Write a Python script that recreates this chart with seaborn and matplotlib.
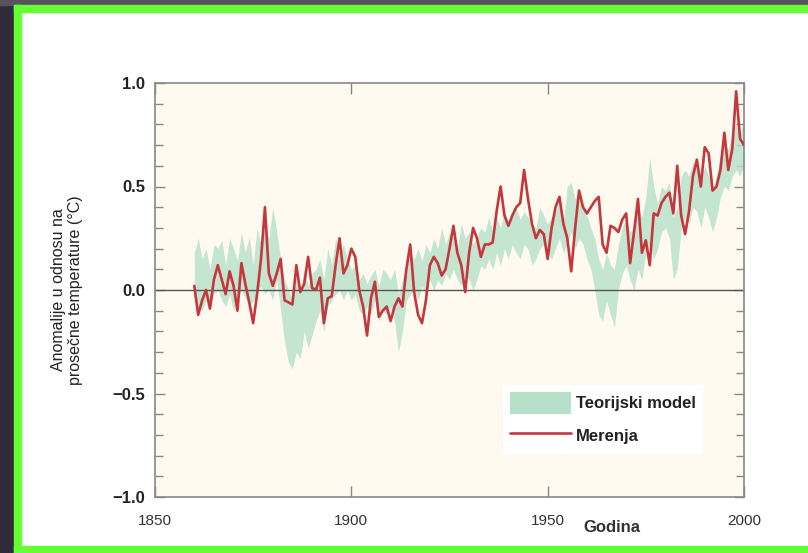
import numpy as np
import pandas as pd
import matplotlib
matplotlib.use("Agg")
import matplotlib.pyplot as plt
import seaborn as sns
from matplotlib.patches import Rectangle, Patch
from matplotlib.lines import Line2D
from matplotlib.ticker import MultipleLocator

# --- podaci (procenjeno sa slike) ---
years = np.arange(1860, 2001)

merenja = [
    0.02, -0.12, -0.05, 0.00, -0.09, 0.05, 0.12, 0.05, -0.02, 0.09,
    0.02, -0.10, 0.13, 0.03, -0.06, -0.16, -0.02, 0.15, 0.40, 0.08,
    0.02, 0.08, 0.15, -0.05, -0.06, -0.07, 0.12, -0.01, 0.03, 0.16,
    0.01, 0.00, 0.06, -0.16, -0.04, -0.03, 0.12, 0.25, 0.08, 0.12,
    0.20, 0.16, 0.00, -0.08, -0.22, -0.04, 0.04, -0.13, -0.10, -0.08,
    -0.15, -0.08, -0.04, -0.08, 0.10, 0.22, -0.01, -0.12, -0.16, -0.05,
    0.12, 0.16, 0.13, 0.07, 0.10, 0.20, 0.31, 0.18, 0.12, -0.01,
    0.18, 0.30, 0.25, 0.16, 0.22, 0.22, 0.23, 0.38, 0.50, 0.36,
    0.31, 0.36, 0.40, 0.42, 0.58, 0.44, 0.32, 0.25, 0.29, 0.27,
    0.15, 0.30, 0.40, 0.45, 0.32, 0.25, 0.09, 0.30, 0.48, 0.40,
    0.37, 0.40, 0.43, 0.45, 0.22, 0.18, 0.31, 0.30, 0.28, 0.34,
    0.37, 0.13, 0.28, 0.44, 0.18, 0.24, 0.12, 0.37, 0.36, 0.42,
    0.45, 0.47, 0.37, 0.60, 0.36, 0.27, 0.38, 0.55, 0.63, 0.50,
    0.69, 0.66, 0.48, 0.50, 0.58, 0.76, 0.58, 0.68, 0.96, 0.73,
    0.70,
]

model_lo = [
    -0.05, -0.08, -0.10, -0.05, -0.08, -0.02, 0.00, -0.05, -0.08, -0.02,
    -0.10, -0.05, 0.00, -0.04, -0.08, -0.05, -0.02, 0.02, -0.02, 0.00,
    -0.05, 0.05, -0.10, -0.25, -0.35, -0.38, -0.30, -0.33, -0.20, -0.28,
    -0.22, -0.15, -0.10, -0.20, -0.08, -0.05, -0.02, 0.00, -0.05, 0.00,
    -0.05, -0.02, -0.10, -0.12, -0.08, -0.12, -0.05, -0.15, -0.10, -0.12,
    -0.08, -0.15, -0.30, -0.20, -0.05, -0.02, 0.00, -0.05, 0.02, -0.03,
    0.05, 0.00, 0.05, 0.02, 0.08, 0.05, 0.10, 0.05, 0.02, 0.08,
    0.05, 0.00, 0.05, 0.12, 0.10, 0.15, 0.10, 0.18, 0.12, 0.20,
    0.15, 0.22, 0.18, 0.15, 0.22, 0.20, 0.12, 0.15, 0.20, 0.22,
    0.18, 0.15, 0.20, 0.25, 0.18, 0.22, 0.28, 0.20, 0.25, 0.22,
    0.15, 0.10, 0.00, -0.12, -0.15, -0.05, -0.12, -0.18, 0.00, 0.08,
    0.12, 0.05, 0.00, 0.10, 0.05, 0.18, 0.22, 0.15, 0.20, 0.28,
    0.30, 0.25, 0.05, 0.10, 0.30, 0.35, 0.32, 0.40, 0.38, 0.30,
    0.40, 0.35, 0.28, 0.35, 0.45, 0.50, 0.48, 0.55, 0.58, 0.55,
    0.60,
]

model_hi = [
    0.18, 0.25, 0.15, 0.20, 0.10, 0.22, 0.20, 0.24, 0.12, 0.25,
    0.20, 0.14, 0.28, 0.18, 0.26, 0.12, 0.30, 0.22, 0.32, 0.25,
    0.40, 0.28, 0.15, 0.05, 0.00, -0.05, 0.05, 0.00, 0.10, 0.02,
    0.08, 0.10, 0.15, 0.05, 0.20, 0.12, 0.25, 0.18, 0.22, 0.15,
    0.10, 0.12, 0.05, 0.08, 0.03, 0.07, 0.10, 0.02, 0.10, 0.08,
    0.05, 0.10, -0.02, 0.05, 0.12, 0.18, 0.15, 0.20, 0.14, 0.22,
    0.18, 0.25, 0.20, 0.30, 0.22, 0.28, 0.24, 0.20, 0.32, 0.25,
    0.28, 0.22, 0.26, 0.30, 0.28, 0.35, 0.28, 0.35, 0.30, 0.38,
    0.32, 0.36, 0.40, 0.34, 0.38, 0.35, 0.32, 0.30, 0.40, 0.36,
    0.32, 0.35, 0.38, 0.42, 0.34, 0.50, 0.52, 0.44, 0.48, 0.40,
    0.36, 0.30, 0.25, 0.15, 0.10, 0.18, 0.12, 0.10, 0.22, 0.30,
    0.35, 0.28, 0.30, 0.40, 0.35, 0.45, 0.64, 0.50, 0.42, 0.50,
    0.48, 0.52, 0.35, 0.40, 0.55, 0.58, 0.55, 0.62, 0.58, 0.52,
    0.60, 0.55, 0.48, 0.55, 0.66, 0.70, 0.68, 0.75, 0.80, 0.75,
    0.82,
]

df = pd.DataFrame({"Godina": years, "Merenja": merenja,
                   "lo": model_lo, "hi": model_hi})

sns.set_theme(style="white")
plt.rcParams["font.family"] = ["Liberation Sans", "DejaVu Sans"]

fig = plt.figure(figsize=(8.08, 5.53), dpi=100)
fig.patch.set_facecolor("white")

# okvir slike (tamna pozadina + zeleni rub)
W, H = 808, 553
def px_rect(x0, y0, x1, y1, color):
    fig.patches.append(Rectangle((x0 / W, 1 - y1 / H), (x1 - x0) / W, (y1 - y0) / H,
                                 transform=fig.transFigure, color=color, zorder=0))
px_rect(0, 0, 14, H, "#2f2b3b")
px_rect(0, 0, W, 5, "#55535e")
px_rect(14, 5, W, 12, "#66ff33")
px_rect(14, 5, 21, H, "#66ff33")
px_rect(14, 546, W, H, "#66ff33")

ax = fig.add_axes([155 / W, 1 - 497 / H, (744 - 155) / W, (497 - 83) / H])
ax.set_facecolor("#fefaef")

band_color = "#b6e0c9"
ax.fill_between(df["Godina"], df["lo"], df["hi"], color=band_color,
                linewidth=0, alpha=0.8, zorder=1)
ax.axhline(0, color="#555555", lw=1.0, zorder=2)
sns.lineplot(data=df, x="Godina", y="Merenja", ax=ax, color="#c4383d",
             lw=1.9, zorder=3)

ax.set_xlim(1850, 2000)
ax.set_ylim(-1.0, 1.0)
ax.set_xticks([1850, 1900, 1950, 2000])
ax.set_yticks([-1.0, -0.5, 0.0, 0.5, 1.0])
ax.yaxis.set_minor_locator(MultipleLocator(0.1))
ax.tick_params(axis="x", which="major", direction="in", length=8, width=1,
               color="#888888", top=True, bottom=True, pad=12, labelsize=11)
ax.tick_params(axis="y", which="major", direction="in", length=7, width=1,
               color="#888888", left=True, right=True, labelsize=12, pad=7)
ax.tick_params(axis="y", which="minor", direction="in", length=6, width=1,
               color="#888888", left=True, right=True)
ax.set_yticklabels(["\u22121.0", "\u22120.5", "0.0", "0.5", "1.0"],
                   fontweight="bold", color="#222222")
ax.set_xticklabels(["1850", "1900", "1950", "2000"], color="#333333")
for s in ax.spines.values():
    s.set_color("#888888")
    s.set_linewidth(1.2)

ax.set_xlabel("")
ax.set_ylabel("Anomalije u odnosu na\nprosečne temperature (°C)",
              fontsize=11.5, color="#222222", labelpad=21)
fig.text(612 / W, 1 - 527 / H, "Godina", ha="center", va="center",
         fontsize=12, fontweight="bold", color="#333333")

handles = [Patch(facecolor=band_color, edgecolor="none"),
           Line2D([0], [0], color="#c4383d", lw=1.9)]
leg = ax.legend(handles, ["Teorijski model", "Merenja"], loc="lower left",
                bbox_to_anchor=(0.577, 0.085), frameon=True, fancybox=False,
                framealpha=1, edgecolor="white", facecolor="white",
                handlelength=3.65, handleheight=1.7, handletextpad=0.3,
                labelspacing=0.6, borderpad=0.4,
                prop={"size": 12, "weight": "bold"})
for t in leg.get_texts():
    t.set_color("#222222")

fig.savefig("out.png", dpi=100)
